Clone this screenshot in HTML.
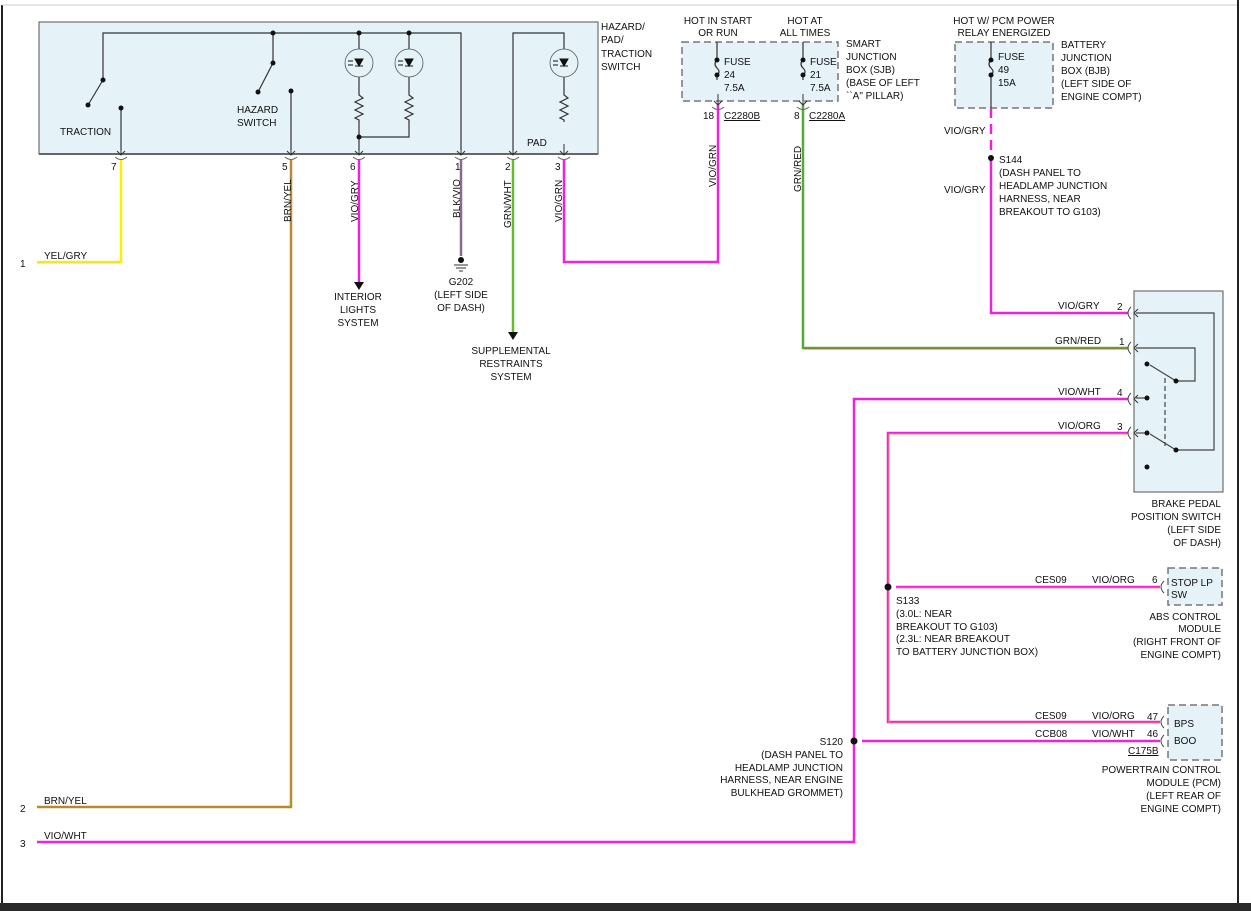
<!DOCTYPE html>
<html><head><meta charset="utf-8"><style>
html,body{margin:0;padding:0;background:#fff;}
svg{display:block;font-family:"Liberation Sans",Arial,sans-serif;font-size:10px;}
text{fill:#111;}
</style></head><body>
<svg width="1251" height="911" viewBox="0 0 1251 911" xmlns="http://www.w3.org/2000/svg">
<defs>
<g id="led"><circle r="14" fill="none" stroke="#555" stroke-width="0.8"/><path d="M-4,-4 L4,-4 L0,3 Z M-4,3 L4,3" fill="#111" stroke="#111" stroke-width="1"/><path d="M-11,-2 L-6,-2 M-11,2 L-6,2" stroke="#111" stroke-width="1"/></g>
<g id="res"><path d="M0,0 L0,3 L4,6 L-4,10 L4,14 L-4,18 L4,22 L-4,26 L0,28 L0,30" fill="none" stroke="#333" stroke-width="1.2"/></g>
<g id="pin"><path d="M-4,-5 L0,-1 L4,-5 M0,-12 L0,-1" fill="none" stroke="#333" stroke-width="1"/><path d="M-6,1 Q0,6 6,1" fill="none" stroke="#666" stroke-width="1"/></g>
<g id="fuse"><path d="M0,0 L0,18 Q-4,22 0,26 Q4,30 0,33 L0,38" fill="none" stroke="#333" stroke-width="1.2"/><circle cx="0" cy="18" r="2.5" fill="#111"/><circle cx="0" cy="33" r="2.5" fill="#111"/></g>
<g id="cupL"><path d="M5,-6 Q-1,0 5,6" fill="none" stroke="#444" stroke-width="1"/><path d="M12,-4 L8,0 L12,4" fill="none" stroke="#333" stroke-width="1"/></g>
</defs>
<!-- frame -->
<rect x="0" y="0" width="1251" height="911" fill="#fff"/>
<line x1="2" y1="5" x2="2" y2="903" stroke="#222" stroke-width="2"/>
<line x1="2" y1="5" x2="1238" y2="5" stroke="#ccc" stroke-width="1"/>
<line x1="1238" y1="0" x2="1238" y2="903" stroke="#222" stroke-width="2"/>
<rect x="0" y="903" width="1251" height="8" fill="#2a2a2a"/>

<!-- switch box -->
<rect x="39" y="22" width="559" height="132" fill="#e5f2f8" stroke="#555" stroke-width="1"/>
<line x1="39" y1="154" x2="598" y2="154" stroke="#666" stroke-width="2"/>
<g stroke="#333" stroke-width="1.2" fill="none">
<path d="M103,80 L103,33 L461,33 L461,150"/>
<path d="M103,80 L88,105"/>
<path d="M121,108 L121,150"/>
<path d="M273,33 L273,63 L258,92"/>
<path d="M291,91 L291,150"/>
<path d="M359,33 L359,49 M359,77 L359,92 M359,122 L359,150"/>
<path d="M409,33 L409,49 M409,77 L409,92 M409,122 L409,137 L359,137"/>
<path d="M513,150 L513,33 L564,33 L564,49 M564,77 L564,92"/>
</g>
<g fill="#111"><circle cx="103" cy="80" r="2.5"/><circle cx="88" cy="105" r="2.5"/><circle cx="121" cy="108" r="2.5"/><circle cx="273" cy="33" r="2.5"/><circle cx="273" cy="63" r="2.5"/><circle cx="258" cy="92" r="2.5"/><circle cx="291" cy="91" r="2.5"/><circle cx="359" cy="33" r="2.5"/><circle cx="409" cy="33" r="2.5"/><circle cx="359" cy="137" r="2.5"/></g>
<use href="#led" x="359" y="63"/><use href="#led" x="409" y="63"/><use href="#led" x="564" y="63"/>
<use href="#res" x="359" y="92"/><use href="#res" x="409" y="92"/><use href="#res" x="564" y="92"/>
<text x="60" y="135">TRACTION</text>
<text x="237" y="113">HAZARD</text><text x="237" y="126">SWITCH</text>
<text x="527" y="146">PAD</text>
<text x="601" y="30">HAZARD/</text><text x="601" y="43">PAD/</text><text x="601" y="57">TRACTION</text><text x="601" y="70">SWITCH</text>
<use href="#pin" x="121" y="156"/><use href="#pin" x="291" y="156"/><use href="#pin" x="359" y="156"/><use href="#pin" x="461" y="156"/><use href="#pin" x="513" y="156"/><use href="#pin" x="564" y="156"/>
<text x="111" y="170">7</text><text x="282" y="170">5</text><text x="350" y="170">6</text><text x="455" y="170">1</text><text x="505" y="170">2</text><text x="555" y="170">3</text>

<!-- wires -->
<g fill="none" stroke-width="2.5">
<path d="M121,160 L121,262 L37,262" stroke="#ffee00"/>
<path d="M291,160 L291,807 L37,807" stroke="#b88a2e"/>
<path d="M359,160 L359,282" stroke="#ee22dd"/>
<path d="M461,160 L461,256" stroke="#8a6a8a"/>
<path d="M513,160 L513,332" stroke="#66bb33"/>
<path d="M564,160 L564,262 L718,262 L718,104" stroke="#ee22dd"/>
<path d="M803,104 L803,348 L1128,348" stroke="#55aa33"/>
<path d="M991,108 L991,313 L1128,313" stroke="#ee22dd"/>
<path d="M1128,399 L854,399 L854,842 L37,842" stroke="#ee22dd"/>
<path d="M1128,433 L888,433 L888,722 L1160,722" stroke="#ee22dd"/>
<path d="M896,587 L1160,587" stroke="#ee22dd"/>
<path d="M862,741 L1160,741" stroke="#ee22dd"/>
</g>
<path d="M991,108 L991,157" stroke="#fff" stroke-width="3" stroke-dasharray="0 10 6 0" fill="none"/>
<g fill="none" stroke-width="0.8">
<path d="M120,263 L37,263" stroke="#cccc88"/>
<path d="M804,349 L1128,349" stroke="#cc4444"/>
<path d="M1128,434 L889,434 L889,723 L1160,723" stroke="#ff9944"/>
<path d="M896,588 L1160,588" stroke="#ff9944"/>
</g>
<path d="M354,282 L364,282 L359,290 Z" fill="#111"/>
<path d="M508,332 L518,332 L513,340 Z" fill="#111"/>
<!-- ground -->
<circle cx="461" cy="260" r="3" fill="#111"/>
<path d="M454,265 L468,265 M456,268 L466,268 M459,271 L463,271" stroke="#333" stroke-width="1"/>

<!-- vertical labels -->
<g font-size="10">
<text transform="translate(291,222) rotate(-90)">BRN/YEL</text>
<text transform="translate(358,222) rotate(-90)">VIO/GRY</text>
<text transform="translate(460,218) rotate(-90)">BLK/VIO</text>
<text transform="translate(511,228) rotate(-90)">GRN/WHT</text>
<text transform="translate(562,222) rotate(-90)">VIO/GRN</text>
<text transform="translate(716,187) rotate(-90)">VIO/GRN</text>
<text transform="translate(801,192) rotate(-90)">GRN/RED</text>
</g>

<text x="44" y="259">YEL/GRY</text><text x="20" y="267" fill="#a33">1</text>
<text x="44" y="804">BRN/YEL</text><text x="20" y="812" fill="#a33">2</text>
<text x="44" y="839">VIO/WHT</text><text x="20" y="847" fill="#a33">3</text>
<g text-anchor="middle">
<text x="358" y="300">INTERIOR</text><text x="358" y="313">LIGHTS</text><text x="358" y="326">SYSTEM</text>
<text x="461" y="285">G202</text><text x="461" y="298">(LEFT SIDE</text><text x="461" y="311">OF DASH)</text>
<text x="511" y="354">SUPPLEMENTAL</text><text x="511" y="367">RESTRAINTS</text><text x="511" y="380">SYSTEM</text>
<text x="718" y="24">HOT IN START</text><text x="718" y="36">OR RUN</text>
<text x="805" y="24">HOT AT</text><text x="805" y="36">ALL TIMES</text>
<text x="1004" y="24">HOT W/ PCM POWER</text><text x="1004" y="36">RELAY ENERGIZED</text>
</g>

<!-- SJB -->
<rect x="682" y="42" width="156" height="59" fill="#e5f2f8" stroke="#777" stroke-width="1.5" stroke-dasharray="7 4"/>
<use href="#fuse" x="717" y="42"/><use href="#fuse" x="803" y="42"/>
<use href="#pin" x="718" y="106"/><use href="#pin" x="803" y="106"/>
<text x="724" y="65">FUSE</text><text x="724" y="78">24</text><text x="724" y="91">7.5A</text>
<text x="810" y="65">FUSE</text><text x="810" y="78">21</text><text x="810" y="91">7.5A</text>
<text x="846" y="47">SMART</text><text x="846" y="60">JUNCTION</text><text x="846" y="73">BOX (SJB)</text><text x="846" y="86">(BASE OF LEFT</text><text x="846" y="99">``A" PILLAR)</text>
<text x="703" y="119">18</text><text x="724" y="119" text-decoration="underline">C2280B</text>
<text x="794" y="119">8</text><text x="809" y="119" text-decoration="underline">C2280A</text>

<!-- BJB -->
<rect x="955" y="42" width="98" height="66" fill="#e5f2f8" stroke="#777" stroke-width="1.5" stroke-dasharray="7 4"/>
<use href="#fuse" x="991" y="42"/>
<line x1="991" y1="80" x2="991" y2="108" stroke="#333" stroke-width="1.2"/>
<text x="998" y="60">FUSE</text><text x="998" y="73">49</text><text x="998" y="86">15A</text>
<text x="1061" y="48">BATTERY</text><text x="1061" y="61">JUNCTION</text><text x="1061" y="74">BOX (BJB)</text><text x="1061" y="87">(LEFT SIDE OF</text><text x="1061" y="100">ENGINE COMPT)</text>
<text x="944" y="134">VIO/GRY</text>
<circle cx="991" cy="158" r="3" fill="#111"/>
<text x="944" y="193">VIO/GRY</text>
<text x="999" y="163">S144</text><text x="999" y="176">(DASH PANEL TO</text><text x="999" y="189">HEADLAMP JUNCTION</text><text x="999" y="202">HARNESS, NEAR</text><text x="999" y="215">BREAKOUT TO G103)</text>

<!-- brake pedal switch -->
<rect x="1134" y="291" width="89" height="201" fill="#e5f2f8" stroke="#555" stroke-width="1"/>
<g stroke="#444" stroke-width="1.2" fill="none">
<path d="M1136,313 L1214,313 L1214,450 L1176,450"/>
<path d="M1136,348 L1195,348 L1195,381 L1176,381"/>
<path d="M1176,381 L1150,365"/><path d="M1176,450 L1150,434"/>
<path d="M1136,398 L1147,398"/><path d="M1136,433 L1147,433"/>
<path d="M1165,378 L1165,446" stroke-dasharray="5 3"/>
</g>
<g fill="#111"><circle cx="1147" cy="364" r="2.5"/><circle cx="1176" cy="381" r="2.5"/><circle cx="1147" cy="398" r="2.5"/><circle cx="1147" cy="433" r="2.5"/><circle cx="1176" cy="450" r="2.5"/><circle cx="1147" cy="467" r="2.5"/></g>
<use href="#cupL" x="1126" y="313"/><use href="#cupL" x="1126" y="348"/><use href="#cupL" x="1126" y="399"/><use href="#cupL" x="1126" y="433"/>
<text x="1058" y="309">VIO/GRY</text><text x="1117" y="310">2</text>
<text x="1055" y="344">GRN/RED</text><text x="1119" y="345">1</text>
<text x="1058" y="395">VIO/WHT</text><text x="1117" y="396">4</text>
<text x="1058" y="429">VIO/ORG</text><text x="1117" y="430">3</text>
<g text-anchor="end">
<text x="1221" y="507">BRAKE PEDAL</text><text x="1221" y="520">POSITION SWITCH</text><text x="1221" y="533">(LEFT SIDE</text><text x="1221" y="546">OF DASH)</text>
<text x="1221" y="620">ABS CONTROL</text><text x="1221" y="632">MODULE</text><text x="1221" y="645">(RIGHT FRONT OF</text><text x="1221" y="658">ENGINE COMPT)</text>
<text x="1221" y="773">POWERTRAIN CONTROL</text><text x="1221" y="786">MODULE (PCM)</text><text x="1221" y="799">(LEFT REAR OF</text><text x="1221" y="812">ENGINE COMPT)</text>
<text x="843" y="745">S120</text><text x="843" y="758">(DASH PANEL TO</text><text x="843" y="771">HEADLAMP JUNCTION</text><text x="843" y="783">HARNESS, NEAR ENGINE</text><text x="843" y="796">BULKHEAD GROMMET)</text>
</g>

<!-- S133 -->
<circle cx="888" cy="587" r="3.5" fill="#111"/>
<text x="896" y="604">S133</text><text x="896" y="617">(3.0L: NEAR</text><text x="896" y="630">BREAKOUT TO G103)</text><text x="896" y="642">(2.3L: NEAR BREAKOUT</text><text x="896" y="655">TO BATTERY JUNCTION BOX)</text>
<text x="1035" y="583">CES09</text><text x="1092" y="583">VIO/ORG</text><text x="1152" y="583">6</text>
<path d="M1164,581 Q1158,587 1164,593" fill="none" stroke="#444"/>
<rect x="1168" y="568" width="54" height="37" fill="#e5f2f8" stroke="#777" stroke-width="1.5" stroke-dasharray="7 4"/>
<text x="1171" y="586">STOP LP</text><text x="1171" y="598">SW</text>

<!-- PCM -->
<circle cx="854" cy="741" r="3.5" fill="#111"/>
<text x="1035" y="719">CES09</text><text x="1092" y="719">VIO/ORG</text><text x="1147" y="720">47</text>
<text x="1035" y="737">CCB08</text><text x="1092" y="737">VIO/WHT</text><text x="1147" y="737">46</text>
<path d="M1164,716 Q1158,722 1164,728 M1164,735 Q1158,741 1164,747" fill="none" stroke="#444"/>
<rect x="1168" y="705" width="54" height="55" fill="#e5f2f8" stroke="#777" stroke-width="1.5" stroke-dasharray="7 4"/>
<text x="1174" y="727">BPS</text><text x="1174" y="744">BOO</text>
<text x="1128" y="754" text-decoration="underline">C175B</text>
</svg>
</body></html>
